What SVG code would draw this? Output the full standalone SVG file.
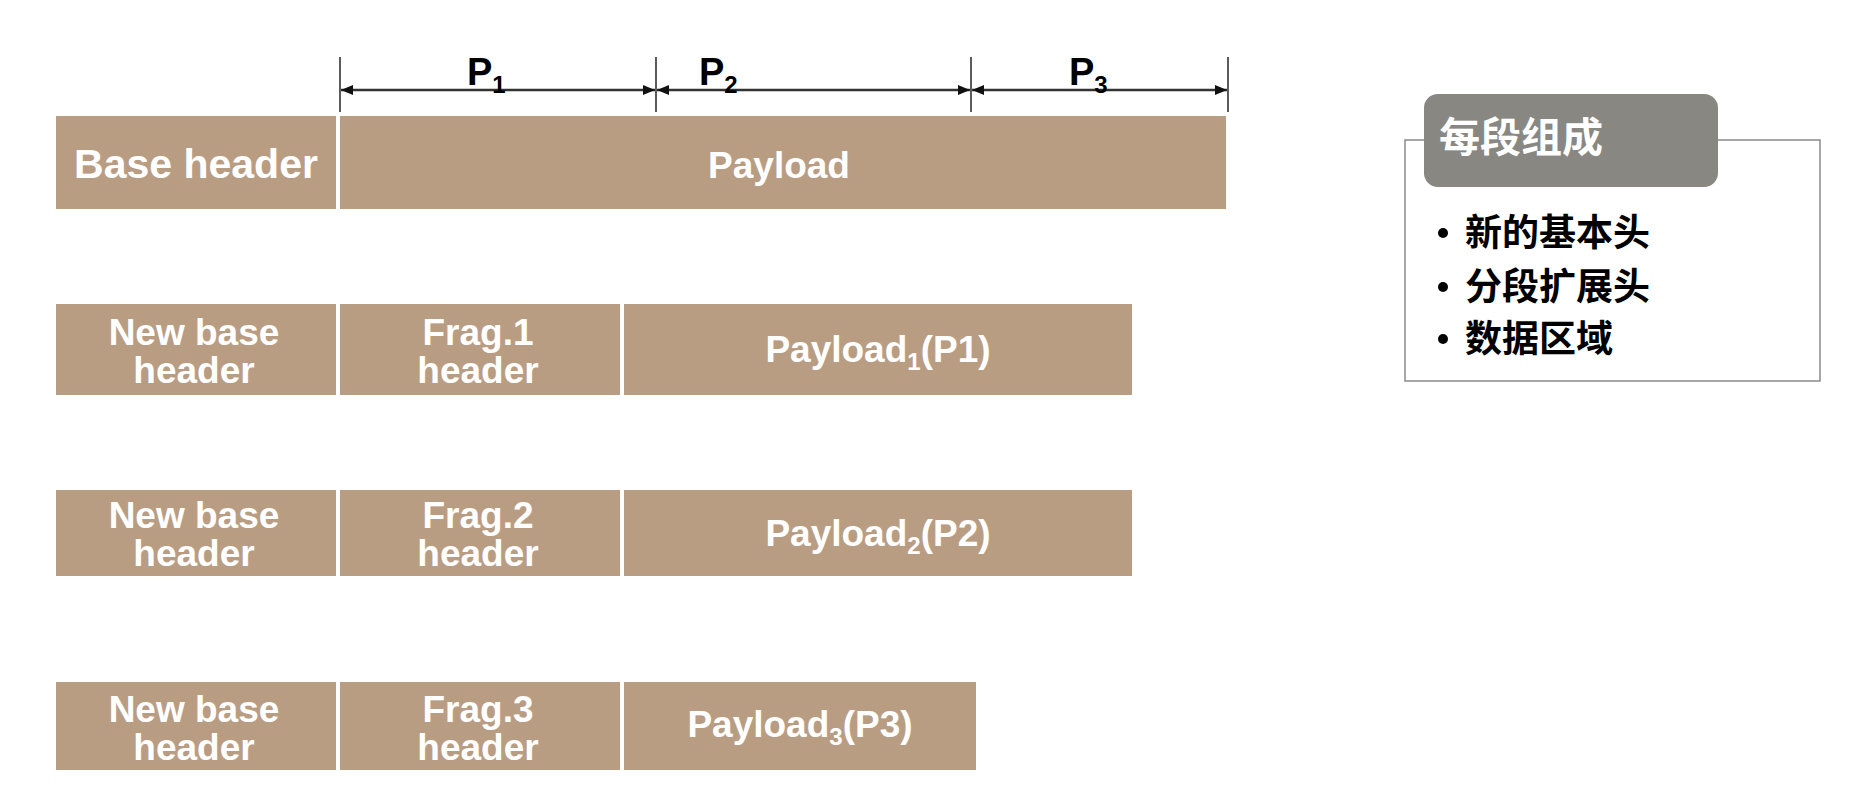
<svg xmlns="http://www.w3.org/2000/svg" width="1850" height="792" viewBox="0 0 1850 792">
  <defs>
    <marker id="arr" viewBox="0 0 12 10" refX="12" refY="5" markerWidth="12" markerHeight="10" markerUnits="userSpaceOnUse" orient="auto-start-reverse">
      <path d="M0,0 L12,5 L0,10 Z" fill="#111"/>
    </marker>
  </defs>
  <style>
    .blk { fill: #B99D83; }
    .lbl { font-family: "Liberation Sans", Arial, sans-serif; font-weight: bold; fill: #ffffff; text-anchor: middle; font-size: 37px; }
    .big { font-size: 41px; }
    .dim { stroke: #333; stroke-width: 2.5; fill: none; }
    .tick { stroke: #333; stroke-width: 1.6; }
    .pl { font-family: "Liberation Sans", Arial, sans-serif; font-weight: bold; fill: #000; font-size: 38px; }
    .cjk { font-family: "Noto Sans CJK SC", sans-serif; font-weight: bold; }
  </style>
  <rect width="1850" height="792" fill="#ffffff"/>

  <g id="dimensions">
    <line class="tick" x1="340" y1="57" x2="340" y2="112"/>
    <line class="tick" x1="656" y1="57" x2="656" y2="112"/>
    <line class="tick" x1="971" y1="57" x2="971" y2="112"/>
    <line class="tick" x1="1228" y1="57" x2="1228" y2="112"/>
    <line class="dim" x1="341" y1="90" x2="655" y2="90" marker-start="url(#arr)" marker-end="url(#arr)"/>
    <line class="dim" x1="657" y1="90" x2="970" y2="90" marker-start="url(#arr)" marker-end="url(#arr)"/>
    <line class="dim" x1="972" y1="90" x2="1227" y2="90" marker-start="url(#arr)" marker-end="url(#arr)"/>
    <text class="pl" x="467" y="85">P<tspan font-size="24" dy="8">1</tspan></text>
    <text class="pl" x="699" y="85">P<tspan font-size="24" dy="8">2</tspan></text>
    <text class="pl" x="1069" y="85">P<tspan font-size="24" dy="8">3</tspan></text>
  </g>

  <g id="row1">
    <g id="base-header">
      <rect class="blk" x="56" y="116" width="280" height="93"/>
      <text class="lbl big" x="196" y="178">Base header</text>
    </g>
    <g id="payload">
      <rect class="blk" x="340" y="116" width="886" height="93"/>
      <text class="lbl" x="779" y="178">Payload</text>
    </g>
  </g>

  <g id="row2">
    <g id="new-base-header-1">
      <rect class="blk" x="56" y="304" width="280" height="91"/>
      <text class="lbl" x="194" y="345">New base</text>
      <text class="lbl" x="194" y="383">header</text>
    </g>
    <g id="frag1-header">
      <rect class="blk" x="340" y="304" width="280" height="91"/>
      <text class="lbl" x="478" y="345">Frag.1</text>
      <text class="lbl" x="478" y="383">header</text>
    </g>
    <g id="payload1">
      <rect class="blk" x="624" y="304" width="508" height="91"/>
      <text class="lbl" x="878" y="362">Payload<tspan font-size="24" dy="8">1</tspan><tspan dy="-8">(P1)</tspan></text>
    </g>
  </g>

  <g id="row3">
    <g id="new-base-header-2">
      <rect class="blk" x="56" y="490" width="280" height="86"/>
      <text class="lbl" x="194" y="528">New base</text>
      <text class="lbl" x="194" y="566">header</text>
    </g>
    <g id="frag2-header">
      <rect class="blk" x="340" y="490" width="280" height="86"/>
      <text class="lbl" x="478" y="528">Frag.2</text>
      <text class="lbl" x="478" y="566">header</text>
    </g>
    <g id="payload2">
      <rect class="blk" x="624" y="490" width="508" height="86"/>
      <text class="lbl" x="878" y="546">Payload<tspan font-size="24" dy="8">2</tspan><tspan dy="-8">(P2)</tspan></text>
    </g>
  </g>

  <g id="row4">
    <g id="new-base-header-3">
      <rect class="blk" x="56" y="682" width="280" height="88"/>
      <text class="lbl" x="194" y="722">New base</text>
      <text class="lbl" x="194" y="760">header</text>
    </g>
    <g id="frag3-header">
      <rect class="blk" x="340" y="682" width="280" height="88"/>
      <text class="lbl" x="478" y="722">Frag.3</text>
      <text class="lbl" x="478" y="760">header</text>
    </g>
    <g id="payload3">
      <rect class="blk" x="624" y="682" width="352" height="88"/>
      <text class="lbl" x="800" y="737">Payload<tspan font-size="24" dy="8">3</tspan><tspan dy="-8">(P3)</tspan></text>
    </g>
  </g>

  <g id="legend">
    <rect x="1405" y="140" width="415" height="241" fill="none" stroke="#8a8a8a" stroke-width="1.5"/>
    <rect x="1424" y="94" width="294" height="93" rx="14" ry="14" fill="#888782"/>
    <text class="cjk" x="1439" y="152" font-size="41" fill="#ffffff">每段组成</text>
    <circle cx="1443" cy="233" r="5" fill="#000"/>
    <circle cx="1443" cy="287" r="5" fill="#000"/>
    <circle cx="1443" cy="339" r="5" fill="#000"/>
    <text class="cjk" x="1465" y="246" font-size="37" fill="#000">新的基本头</text>
    <text class="cjk" x="1465" y="300" font-size="37" fill="#000">分段扩展头</text>
    <text class="cjk" x="1465" y="352" font-size="37" fill="#000">数据区域</text>
  </g>
</svg>
